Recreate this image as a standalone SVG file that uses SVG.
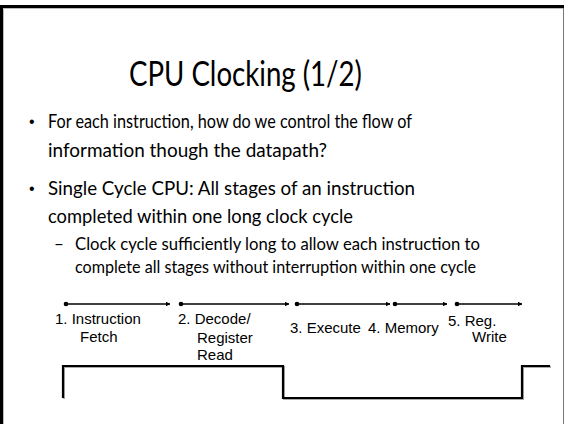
<svg xmlns="http://www.w3.org/2000/svg" width="565" height="424" viewBox="0 0 565 424">
<defs>
<style>
.body{font-family:Lato,"Open Sans","Noto Sans",sans-serif;fill:#000}
.t{font-size:34px}
.b{font-size:19.5px}
.s{font-size:17px}
.bul{font-family:"Liberation Sans",Arial,sans-serif;font-size:16px;fill:#000}
.lbl{font-family:"Liberation Sans",Arial,sans-serif;font-size:15px;fill:#000}
.arr{stroke:#000;stroke-width:1.4;fill:none;marker-start:url(#dot);marker-end:url(#head)}
.wave{stroke:#000;stroke-width:2.2;fill:none;stroke-linejoin:miter}
.shadow{stroke:#aaa;stroke-width:2;fill:none}
</style>
<marker id="dot" viewBox="0 0 6 6" refX="3" refY="3" markerWidth="4" markerHeight="4" markerUnits="strokeWidth" orient="auto">
<circle cx="3" cy="3" r="2.5" fill="#000"/>
</marker>
<marker id="head" viewBox="0 0 10 10" refX="9" refY="5" markerWidth="3.5" markerHeight="3.5" markerUnits="strokeWidth" orient="auto">
<path d="M0,0 L10,5 L0,10 Z" fill="#000"/>
</marker>
</defs>
<rect width="565" height="424" fill="#fff"/>
<g id="frame">
<line x1="3.5" y1="8.5" x2="563" y2="8.5" stroke="#bbb" stroke-width="1"/>
<line x1="3.5" y1="8.5" x2="3.5" y2="424" stroke="#bbb" stroke-width="1"/>
<line x1="563.5" y1="7" x2="563.5" y2="424" stroke="#777" stroke-width="1"/>
<rect x="0" y="5" width="564" height="3" fill="#000"/>
<rect x="0" y="5" width="3" height="419" fill="#000"/>
</g>
<g id="title">
<text class="body t" x="129" y="86" textLength="233" lengthAdjust="spacingAndGlyphs">CPU Clocking (1/2)</text>
</g>
<g id="bullets">
<text class="bul" x="29" y="127">•</text>
<text class="body b" x="48" y="128" textLength="364" lengthAdjust="spacingAndGlyphs">For each instruction, how do we control the flow of</text>
<text class="body b" x="48" y="157" textLength="279" lengthAdjust="spacingAndGlyphs">information though the datapath?</text>
<text class="bul" x="29" y="194">•</text>
<text class="body b" x="48" y="195" textLength="367" lengthAdjust="spacingAndGlyphs">Single Cycle CPU: All stages of an instruction</text>
<text class="body b" x="48" y="223" textLength="305" lengthAdjust="spacingAndGlyphs">completed within one long clock cycle</text>
<text class="body s" x="54" y="250">–</text>
<text class="body s" x="75" y="250" textLength="405" lengthAdjust="spacingAndGlyphs">Clock cycle sufficiently long to allow each instruction to</text>
<text class="body s" x="75" y="273" textLength="401" lengthAdjust="spacingAndGlyphs">complete all stages without interruption within one cycle</text>
</g>
<g id="connectors">
<line class="arr" x1="66" y1="304" x2="170" y2="304"/>
<line class="arr" x1="181" y1="304" x2="289" y2="304"/>
<line class="arr" x1="297" y1="304" x2="390" y2="304"/>
<line class="arr" x1="395" y1="304" x2="447" y2="304"/>
<line class="arr" x1="457" y1="304" x2="522" y2="304"/>
</g>
<g id="stage1">
<text class="lbl" x="55" y="324">1. Instruction</text>
<text class="lbl" x="80" y="342">Fetch</text>
</g>
<g id="stage2">
<text class="lbl" x="178" y="324">2. Decode/</text>
<text class="lbl" x="197" y="343">Register</text>
<text class="lbl" x="197" y="360">Read</text>
</g>
<g id="stage3">
<text class="lbl" x="290" y="333">3. Execute</text>
</g>
<g id="stage4">
<text class="lbl" x="368" y="333">4. Memory</text>
</g>
<g id="stage5">
<text class="lbl" x="448" y="326">5. Reg.</text>
<text class="lbl" x="472" y="342">Write</text>
</g>
<g id="clock">
<path class="shadow" d="M64,399 V367 H284 V399 H523 V367 H551"/>
<path class="wave" d="M63,398 V366 H283 V398 H522 V366 H550"/>
</g>
</svg>
